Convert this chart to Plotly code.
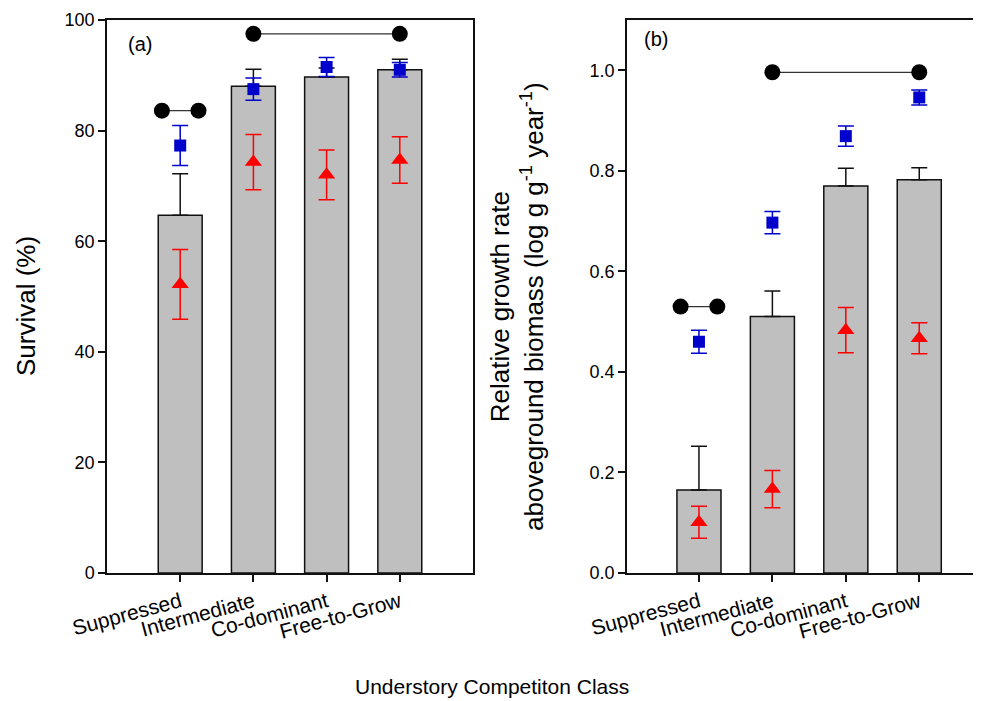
import plotly.graph_objects as go

# The page body has an 8px margin; the figure is sized and positioned to compensate.
OFF = 8
W, H = 981 - OFF, 701 - OFF

categories = ["Suppressed", "Intermediate", "Co-dominant", "Free-to-Grow"]
xpos = [0, 1, 2, 3]

# Panel (a): Survival (%)
surv_bar = [64.7, 88.0, 89.7, 91.0]
surv_bar_err = [7.5, 3.1, 1.6, 1.9]
surv_blue = [77.3, 87.5, 91.5, 91.0]
surv_blue_err = [3.6, 2.0, 1.7, 1.3]
surv_red = [52.2, 74.3, 72.0, 74.7]
surv_red_err = [6.3, 5.0, 4.5, 4.2]
surv_pair_y = 83.6
surv_top_y = 97.5

# Panel (b): Relative growth rate
rgr_bar = [0.165, 0.510, 0.770, 0.782]
rgr_bar_err = [0.087, 0.051, 0.035, 0.024]
rgr_blue = [0.460, 0.697, 0.869, 0.946]
rgr_blue_err = [0.023, 0.022, 0.020, 0.015]
rgr_red = [0.101, 0.167, 0.483, 0.467]
rgr_red_err = [0.032, 0.037, 0.045, 0.031]
rgr_pair_y = 0.530
rgr_top_y = 0.996

pair_x = [-0.25, 0.25]
top_x = [1, 3]

FONT = "Liberation Sans, Arial, sans-serif"
BAR_COLOR = "#bfbfbf"
BLUE = "#0000cc"
RED = "#ff0000"

fig = go.Figure()

def add_panel(xa, ya, bars, bar_err, blue, blue_err, red, red_err, pair_y, top_y):
    fig.add_trace(go.Bar(
        x=xpos, y=bars, width=0.6, xaxis=xa, yaxis=ya,
        marker=dict(color=BAR_COLOR, line=dict(color="#111111", width=1.5)),
        error_y=dict(type="data", symmetric=False, array=bar_err,
                     arrayminus=[0] * len(bar_err), color="#111111",
                     thickness=1.5, width=8),
        showlegend=False, hoverinfo="skip"))
    fig.add_trace(go.Scatter(
        x=xpos, y=blue, mode="markers", xaxis=xa, yaxis=ya,
        marker=dict(symbol="square", size=12, color=BLUE),
        error_y=dict(type="data", array=blue_err, color=BLUE,
                     thickness=1.5, width=8),
        showlegend=False))
    fig.add_trace(go.Scatter(
        x=xpos, y=red, mode="markers", xaxis=xa, yaxis=ya,
        marker=dict(symbol="triangle-up", size=15, color=RED),
        error_y=dict(type="data", array=red_err, color=RED,
                     thickness=1.5, width=8),
        showlegend=False))
    fig.add_trace(go.Scatter(
        x=pair_x, y=[pair_y, pair_y], mode="lines+markers", xaxis=xa, yaxis=ya,
        line=dict(color="#333333", width=1.2),
        marker=dict(symbol="circle", size=16, color="black"),
        showlegend=False))
    fig.add_trace(go.Scatter(
        x=top_x, y=[top_y, top_y], mode="lines+markers", xaxis=xa, yaxis=ya,
        line=dict(color="#333333", width=1.2),
        marker=dict(symbol="circle", size=16, color="black"),
        showlegend=False))

add_panel("x", "y", surv_bar, surv_bar_err, surv_blue, surv_blue_err,
          surv_red, surv_red_err, surv_pair_y, surv_top_y)
add_panel("x2", "y2", rgr_bar, rgr_bar_err, rgr_blue, rgr_blue_err,
          rgr_red, rgr_red_err, rgr_pair_y, rgr_top_y)

def px(x):
    return (x - OFF) / W

def py(y):
    return 1 - (y - OFF) / H

ydom = [py(573), py(20)]

common_x = dict(
    tickmode="array", tickvals=xpos, ticktext=categories, tickangle=-15,
    ticks="outside", ticklen=7, tickwidth=1.5, tickcolor="#111111",
    showline=True, linecolor="#111111", linewidth=1.5, mirror=True,
    showgrid=False, zeroline=False, automargin=False,
    tickfont=dict(family=FONT, size=21, color="black"),
)
common_y = dict(
    ticks="outside", ticklen=7, tickwidth=1.5, tickcolor="#111111",
    showline=True, linecolor="#111111", linewidth=1.5, mirror=True,
    showgrid=False, zeroline=False, automargin=False,
    tickfont=dict(family=FONT, size=18, color="black"),
)

fig.update_layout(
    width=W, height=H,
    margin=dict(l=0, r=0, t=0, b=0),
    paper_bgcolor="white", plot_bgcolor="white",
    barmode="overlay",
    xaxis=dict(domain=[px(107), px(473)], range=[-1.0, 4.0], anchor="y", **common_x),
    yaxis=dict(domain=ydom, range=[0, 100], tickvals=[0, 20, 40, 60, 80, 100],
               anchor="x", **common_y),
    xaxis2=dict(domain=[px(627), px(978)], range=[-0.98, 3.80], anchor="y2", **common_x),
    yaxis2=dict(domain=ydom, range=[0, 1.1], tickvals=[0, 0.2, 0.4, 0.6, 0.8, 1.0],
                tickformat=".1f", anchor="x2", **common_y),
    annotations=[
        dict(text="(a)", x=px(140), y=py(44), xref="paper", yref="paper",
             showarrow=False, xanchor="center", yanchor="middle",
             font=dict(family=FONT, size=20, color="black")),
        dict(text="(b)", x=px(656), y=py(39), xref="paper", yref="paper",
             showarrow=False, xanchor="center", yanchor="middle",
             font=dict(family=FONT, size=20, color="black")),
        dict(text="Survival (%)", x=px(26), y=py(306), xref="paper", yref="paper",
             showarrow=False, textangle=-90, xanchor="center", yanchor="middle",
             font=dict(family=FONT, size=26, color="black")),
        dict(text="Relative growth rate<br>aboveground biomass (log g g<sup>-1</sup> year<sup>-1</sup>)",
             x=px(517), y=py(306), xref="paper", yref="paper",
             showarrow=False, textangle=-90, xanchor="center", yanchor="middle",
             font=dict(family=FONT, size=26, color="black")),
        dict(text="Understory Competiton Class", x=px(492), y=py(686),
             xref="paper", yref="paper", showarrow=False,
             xanchor="center", yanchor="middle",
             font=dict(family=FONT, size=21, color="black")),
    ],
)

fig.write_html("out.html")
